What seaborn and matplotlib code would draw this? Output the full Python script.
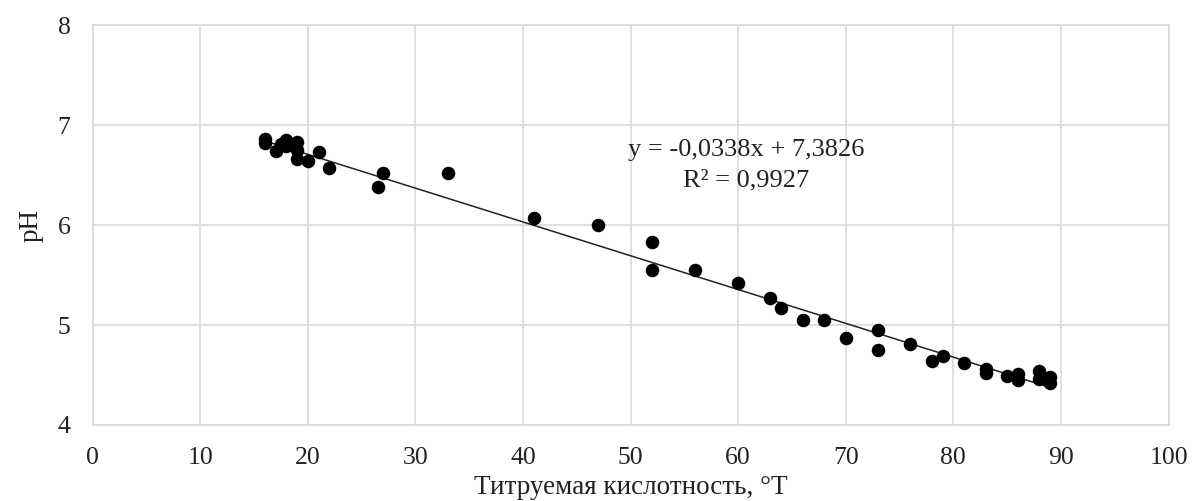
import numpy as np
import pandas as pd
import matplotlib
matplotlib.use("Agg")
import matplotlib.pyplot as plt
import seaborn as sns

# Titratable acidity (°T) and measured pH
acidity = [16, 16, 17, 17.5, 18, 18, 19, 19, 19, 20, 21, 22, 26.5, 27, 33, 41, 47,
           52, 52, 56, 60, 63, 64, 66, 68, 70, 73, 73, 76, 78, 79, 81, 83, 83,
           85, 86, 86, 88, 88, 89, 89]
ph = [6.86, 6.82, 6.74, 6.81, 6.85, 6.79, 6.83, 6.75, 6.66, 6.64, 6.73, 6.57, 6.38,
      6.52, 6.52, 6.07, 6.00, 5.83, 5.55, 5.55, 5.42, 5.27, 5.17, 5.05, 5.05, 4.87,
      4.95, 4.75, 4.81, 4.64, 4.69, 4.62, 4.56, 4.52, 4.49, 4.51, 4.45, 4.54, 4.46,
      4.48, 4.42]

# Linear trend coefficients
slope = -0.0338
intercept = 7.3826
r_squared = 0.9927

x_ticks = [0, 10, 20, 30, 40, 50, 60, 70, 80, 90, 100]
y_ticks = [4, 5, 6, 7, 8]

df = pd.DataFrame({"acidity": acidity, "ph": ph})
trend_x = np.array([min(acidity), max(acidity)])
trend = pd.DataFrame({"x": trend_x, "y": slope * trend_x + intercept})

sns.set_theme(style="whitegrid")
plt.rcParams["font.family"] = ["Liberation Serif", "DejaVu Serif"]

fig = plt.figure(figsize=(11.92, 5.01), dpi=100)
ax = fig.add_axes([0.0778, 0.1517, 0.9025, 0.7983])

sns.lineplot(data=trend, x="x", y="y", ax=ax, color="#222222", linewidth=1.1, zorder=2)
sns.scatterplot(data=df, x="acidity", y="ph", ax=ax, color="black", s=95,
                edgecolor="black", linewidth=0, zorder=3)

ax.set_xlim(0, 100)
ax.set_ylim(4, 8)
ax.set_xticks(x_ticks)
ax.set_yticks(y_ticks)
ax.tick_params(axis="both", labelsize=18.5, colors="#222222", length=0, pad=16)
ax.grid(True, color="#d9d9d9", linewidth=1.2)
for sp in ax.spines.values():
    sp.set_color("#d9d9d9")
    sp.set_linewidth(1.2)

ax.set_xlabel("Титруемая кислотность, °T", fontsize=19.5, color="#222222", labelpad=4)
ax.set_ylabel("pH", fontsize=19.5, color="#222222", labelpad=10)

ax.text(60.7, 6.75, f"y = {slope:.4f}x + {intercept:.4f}".replace(".", ","),
        ha="center", va="center", fontsize=19, color="#222222")
ax.text(60.7, 6.45, f"R² = {r_squared:.4f}".replace(".", ","),
        ha="center", va="center", fontsize=19, color="#222222")

fig.savefig("out.png", dpi=100, facecolor="white")
